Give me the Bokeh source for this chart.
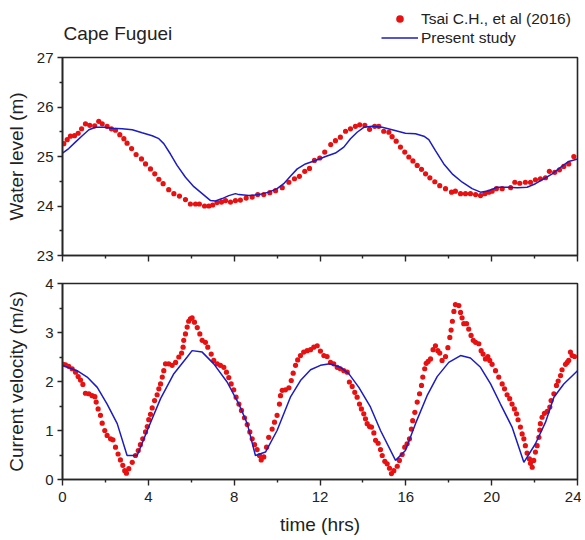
from bokeh.plotting import figure
from bokeh.models import FixedTicker, Legend, LegendItem, Range1d
from bokeh.layouts import column
from bokeh.embed import file_html
from bokeh.resources import INLINE
from bokeh.core.properties import value

FONT = "Liberation Sans"

# ---------------- data ----------------
x_ticks = [0, 4, 8, 12, 16, 20, 24]
x_minor = [2, 6, 10, 14, 18, 22]
wl_ticks = [23, 24, 25, 26, 27]
wl_minor = [23.5, 24.5, 25.5, 26.5]
cv_ticks = [0, 1, 2, 3, 4]
cv_minor = [0.5, 1.5, 2.5, 3.5]

# Water level, Tsai C.H. et al (2016)
wl_obs_t = [0.06, 0.22, 0.37, 0.56, 0.73, 0.89, 1.07, 1.27, 1.50, 1.69, 1.85, 2.08, 2.28, 2.47,
            2.67, 2.86, 3.01, 3.22, 3.43, 3.68, 3.87, 4.10, 4.30, 4.49, 4.69, 4.95, 5.19, 5.45,
            5.73, 5.96, 6.20, 6.38, 6.62, 6.82, 7.00, 7.20, 7.41, 7.60, 7.83, 8.06, 8.29, 8.56,
            8.84, 9.10, 9.38, 9.66, 9.93, 10.24, 10.55, 10.81, 11.04, 11.29, 11.51, 11.74, 11.99,
            12.22, 12.50, 12.72, 12.95, 13.19, 13.42, 13.65, 13.85, 14.09, 14.31, 14.55, 14.74,
            14.97, 15.21, 15.36, 15.55, 15.75, 15.95, 16.14, 16.33, 16.53, 16.73, 16.92, 17.12,
            17.35, 17.58, 17.85, 18.13, 18.31, 18.55, 18.78, 19.01, 19.25, 19.48, 19.68, 19.87,
            20.02, 20.22, 20.49, 20.88, 21.08, 21.31, 21.57, 21.81, 22.04, 22.27, 22.51, 22.69,
            22.94, 23.16, 23.36, 23.59, 23.83]
wl_obs_v = [25.26, 25.34, 25.41, 25.42, 25.47, 25.56, 25.66, 25.63, 25.62, 25.71, 25.66, 25.61,
            25.56, 25.53, 25.44, 25.36, 25.27, 25.16, 25.04, 24.95, 24.85, 24.75, 24.65, 24.54,
            24.45, 24.33, 24.25, 24.20, 24.13, 24.04, 24.04, 24.04, 24.00, 24.00, 24.02, 24.07,
            24.08, 24.11, 24.08, 24.11, 24.12, 24.16, 24.18, 24.23, 24.23, 24.27, 24.31, 24.37,
            24.48, 24.55, 24.60, 24.70, 24.76, 24.92, 24.97, 25.09, 25.24, 25.32, 25.39, 25.51,
            25.56, 25.61, 25.64, 25.63, 25.55, 25.61, 25.61, 25.51, 25.49, 25.40, 25.31, 25.19,
            25.09, 24.99, 24.91, 24.82, 24.74, 24.65, 24.57, 24.49, 24.41, 24.35, 24.28, 24.30,
            24.25, 24.25, 24.25, 24.23, 24.21, 24.25, 24.28, 24.30, 24.35, 24.35, 24.37, 24.48,
            24.46, 24.48, 24.48, 24.53, 24.55, 24.57, 24.70, 24.68, 24.73, 24.80, 24.85, 25.00]

# Water level, present study
wl_sim_t = [0.00, 0.29, 0.60, 0.92, 1.23, 1.54, 1.93, 2.31, 2.78, 3.25, 3.71, 4.18, 4.49, 4.72,
            5.03, 5.34, 5.73, 6.12, 6.51, 6.90, 7.13, 7.44, 7.75, 8.06, 8.22, 8.68, 9.15, 9.61,
            10.00, 10.31, 10.62, 10.94, 11.32, 11.79, 12.26, 12.72, 13.11, 13.42, 13.73, 14.04,
            14.43, 14.90, 15.36, 15.98, 16.45, 16.84, 17.07, 17.38, 17.77, 18.16, 18.63, 19.09,
            19.48, 19.87, 20.26, 20.72, 21.19, 21.65, 22.04, 22.43, 22.82, 23.21, 23.59, 24.00]
wl_sim_v = [25.07, 25.16, 25.29, 25.42, 25.54, 25.59, 25.59, 25.57, 25.56, 25.54, 25.48, 25.42,
            25.36, 25.26, 25.05, 24.82, 24.58, 24.39, 24.25, 24.11, 24.10, 24.15, 24.21, 24.25,
            24.23, 24.21, 24.23, 24.28, 24.35, 24.45, 24.60, 24.75, 24.85, 24.92, 25.00, 25.07,
            25.19, 25.36, 25.49, 25.59, 25.61, 25.59, 25.54, 25.47, 25.46, 25.41, 25.34, 25.12,
            24.85, 24.65, 24.48, 24.35, 24.28, 24.31, 24.38, 24.38, 24.37, 24.38, 24.45, 24.55,
            24.65, 24.78, 24.90, 24.95]

# Current velocity, Tsai C.H. et al (2016)
cv_obs_t = [0.03, 0.14, 0.29, 0.45, 0.61, 0.73, 0.84, 0.95, 1.07, 1.23, 1.38, 1.51, 1.57, 1.66,
            1.77, 1.85, 1.97, 2.08, 2.24, 2.35, 2.47, 2.59, 2.70, 2.81, 2.90, 2.98, 3.09, 3.25,
            3.40, 3.53, 3.63, 3.74, 3.87, 3.95, 4.02, 4.10, 4.18, 4.29, 4.41, 4.49, 4.57, 4.65,
            4.72, 4.80, 4.95, 5.11, 5.27, 5.42, 5.55, 5.62, 5.65, 5.73, 5.81, 5.88, 5.96, 6.04,
            6.15, 6.28, 6.40, 6.51, 6.66, 6.77, 6.93, 7.05, 7.21, 7.36, 7.52, 7.64, 7.75, 7.86,
            7.98, 8.09, 8.22, 8.34, 8.48, 8.61, 8.73, 8.84, 8.95, 9.07, 9.18, 9.26, 9.38, 9.51,
            9.61, 9.77, 9.88, 10.00, 10.11, 10.16, 10.24, 10.39, 10.55, 10.66, 10.75, 10.86,
            10.96, 11.09, 11.24, 11.40, 11.56, 11.71, 11.87, 12.02, 12.18, 12.33, 12.49, 12.64,
            12.80, 12.95, 13.11, 13.27, 13.37, 13.50, 13.62, 13.73, 13.84, 13.93, 14.04, 14.12,
            14.20, 14.31, 14.40, 14.51, 14.59, 14.71, 14.82, 14.90, 15.02, 15.13, 15.24, 15.33,
            15.44, 15.60, 15.70, 15.83, 15.95, 16.06, 16.17, 16.26, 16.32, 16.42, 16.53, 16.64,
            16.73, 16.79, 16.88, 16.95, 17.04, 17.15, 17.27, 17.38, 17.49, 17.58, 17.69, 17.85,
            17.96, 18.05, 18.11, 18.17, 18.24, 18.31, 18.47, 18.55, 18.62, 18.70, 18.83, 18.93,
            19.04, 19.14, 19.25, 19.40, 19.51, 19.60, 19.71, 19.82, 19.91, 20.02, 20.18, 20.33,
            20.49, 20.60, 20.72, 20.84, 20.95, 21.06, 21.16, 21.23, 21.34, 21.42, 21.50, 21.57,
            21.65, 21.76, 21.81, 21.89, 21.96, 22.04, 22.12, 22.20, 22.24, 22.27, 22.35, 22.46,
            22.59, 22.71, 22.77, 22.90, 23.02, 23.10, 23.21, 23.28, 23.44, 23.52, 23.59, 23.67,
            23.75, 23.86]
cv_obs_v = [2.35, 2.34, 2.31, 2.26, 2.19, 2.10, 2.03, 1.94, 1.76, 1.75, 1.71, 1.69, 1.58, 1.44,
            1.31, 1.15, 1.00, 0.90, 0.83, 0.81, 0.66, 0.52, 0.40, 0.29, 0.18, 0.13, 0.22, 0.35,
            0.49, 0.59, 0.71, 0.83, 0.97, 1.08, 1.22, 1.33, 1.46, 1.61, 1.73, 1.85, 1.95, 2.09,
            2.22, 2.36, 2.36, 2.33, 2.39, 2.50, 2.58, 2.70, 2.84, 2.97, 3.11, 3.23, 3.28, 3.30,
            3.21, 3.10, 2.97, 2.84, 2.80, 2.70, 2.56, 2.43, 2.36, 2.33, 2.29, 2.19, 2.08, 1.95,
            1.83, 1.68, 1.54, 1.41, 1.26, 1.12, 0.97, 0.83, 0.71, 0.61, 0.49, 0.40, 0.46, 0.66,
            0.86, 1.03, 1.17, 1.31, 1.54, 1.71, 1.82, 1.83, 1.87, 2.02, 2.17, 2.33,
            2.44, 2.53, 2.60, 2.63, 2.65, 2.70, 2.73, 2.62, 2.53, 2.51, 2.39, 2.36,
            2.29, 2.26, 2.22, 2.19, 1.99, 1.90, 1.78, 1.68, 1.54, 1.44, 1.34, 1.24,
            1.14, 1.08, 1.07, 0.95, 0.80, 0.74, 0.61, 0.49, 0.37, 0.32, 0.23, 0.12,
            0.18, 0.27, 0.39, 0.51, 0.66, 0.73, 0.83, 1.03, 1.20, 1.37, 1.58, 1.75,
            1.92, 2.09, 2.26, 2.37, 2.41, 2.46, 2.65, 2.73, 2.63, 2.58, 2.43, 2.51,
            2.69, 2.90, 3.05, 3.23, 3.43, 3.57, 3.55, 3.41, 3.30, 3.18, 3.18, 3.07,
            2.94, 2.84, 2.80, 2.77, 2.63, 2.56, 2.46, 2.51, 2.43, 2.35, 2.22, 2.09,
            1.95, 1.85, 1.73, 1.65, 1.54, 1.44, 1.34, 1.22, 1.07, 0.93, 0.83, 0.69,
            0.54, 0.42, 0.33, 0.25, 0.39, 0.56, 0.69, 0.86, 1.01, 1.14, 1.27, 1.35,
            1.39, 1.48, 1.61, 1.75, 1.92, 2.01, 2.12, 2.24, 2.35, 2.39, 2.43, 2.60,
            2.53, 2.51]

# Current velocity, present study
cv_sim_t = [0.00, 0.68, 1.15, 1.62, 2.08, 2.55, 3.01, 3.48, 3.95, 4.57, 5.19, 5.81, 6.04, 6.51,
            7.05, 7.67, 8.22, 8.61, 8.99, 9.46, 10.00, 10.62, 11.09, 11.56, 12.02, 12.46, 12.95,
            13.34, 13.81, 14.35, 14.82, 15.52, 15.98, 16.45, 16.99, 17.46, 18.00, 18.55, 19.01,
            19.48, 19.95, 20.41, 20.95, 21.50, 22.04, 22.51, 22.90, 23.36, 24.00]
cv_sim_v = [2.33, 2.22, 2.09, 1.88, 1.54, 1.14, 0.49, 0.49, 1.00, 1.65, 2.16, 2.50, 2.63, 2.60,
            2.36, 1.99, 1.54, 1.14, 0.49, 0.56, 1.00, 1.68, 2.02, 2.24, 2.33, 2.36, 2.29,
            2.16, 1.88, 1.48, 1.00, 0.39, 0.59, 1.14, 1.71, 2.10, 2.39, 2.53, 2.48,
            2.29, 1.95, 1.54, 1.07, 0.35, 0.73, 1.17, 1.68, 1.95, 2.22]

title_text = "Cape Fuguei"
obs_label = "Tsai C.H., et al (2016)"
sim_label = "Present study"

RED = "#e81010"
BLUE = "#1c1cc4"
AX = "#262626"
TXT = "#222222"
W = 581
LEFT = 62
RIGHT = 4


def style(p, left_ticks, left_minor, label, label_standoff, show_x_labels):
    p.xgrid.visible = False
    p.ygrid.visible = False
    p.outline_line_color = AX
    p.outline_line_width = 1.6
    for ax in (p.xaxis[0], p.yaxis[0]):
        ax.axis_line_color = AX
        ax.axis_line_width = 1.6
        ax.major_tick_line_color = AX
        ax.minor_tick_line_color = AX
        ax.major_tick_line_width = 1.4
        ax.minor_tick_line_width = 1.4
        ax.major_tick_in = 0
        ax.minor_tick_in = 0
        ax.major_label_text_font = FONT
        ax.major_label_text_font_size = "15px"
        ax.major_label_text_color = TXT
        ax.axis_label_text_font = FONT
        ax.axis_label_text_font_size = "19px"
        ax.axis_label_text_font_style = "normal"
        ax.axis_label_text_color = TXT
    p.xaxis[0].ticker = FixedTicker(ticks=x_ticks, minor_ticks=x_minor)
    p.xaxis[0].major_tick_out = 6
    p.xaxis[0].minor_tick_out = 3
    p.yaxis[0].ticker = FixedTicker(ticks=left_ticks, minor_ticks=left_minor)
    p.yaxis[0].major_tick_out = 5
    p.yaxis[0].minor_tick_out = 3
    p.yaxis[0].major_label_standoff = 4
    p.yaxis[0].axis_label = label
    p.yaxis[0].axis_label_standoff = label_standoff
    if not show_x_labels:
        p.xaxis[0].major_label_overrides = {t: "" for t in x_ticks}
        p.xaxis[0].major_label_text_font_size = "0px"
        p.xaxis[0].major_label_standoff = 0


# ---------------- header (title + legend) ----------------
# the column aligns this frame with the panels below (page x 62..577), so the
# x range is set to page pixels
HEAD_H = 47
head = figure(width=W, height=HEAD_H, output_backend="svg", toolbar_location=None,
              x_range=Range1d(LEFT, W - RIGHT), y_range=Range1d(0, HEAD_H),
              min_border_left=LEFT, min_border_right=RIGHT, min_border_top=0, min_border_bottom=0)
head.axis.visible = False
head.grid.visible = False
head.outline_line_color = None
head.text(x=[63], y=[HEAD_H - 33], text=[title_text], text_font=value(FONT), text_font_size="19px",
          text_color=TXT, text_baseline="middle", text_align="left")
# off-screen proxies that give the legend its glyphs
d_obs = head.scatter(x=[-9999], y=[-9999], size=5.5, color=RED, line_color=None)
d_sim = head.line(x=[-9999, -9998], y=[-9999, -9999], line_color=BLUE, line_width=1.5)
legend = Legend(items=[LegendItem(label=obs_label, renderers=[d_obs]),
                       LegendItem(label=sim_label, renderers=[d_sim])],
                location=(381 - LEFT, 0), padding=0, margin=0, spacing=0,
                glyph_width=37, glyph_height=19, label_height=19, label_standoff=3,
                label_text_font=FONT, label_text_font_size="15.5px", label_text_color=TXT,
                border_line_color=None, background_fill_alpha=0)
head.add_layout(legend)

# ---------------- top panel ----------------
top = figure(width=W, height=221, output_backend="svg", toolbar_location=None,
             x_range=Range1d(0, 24), y_range=Range1d(23, 27),
             min_border_left=LEFT, min_border_right=RIGHT, min_border_top=10, min_border_bottom=13)
style(top, wl_ticks, wl_minor, "Water level (m)", 7, False)
top.scatter(wl_obs_t, wl_obs_v, size=5.2, color=RED, line_color=None)
top.line(wl_sim_t, wl_sim_v, line_color=BLUE, line_width=1.5)

# ---------------- bottom panel ----------------
bot = figure(width=W, height=271, output_backend="svg", toolbar_location=None,
             x_range=Range1d(0, 24), y_range=Range1d(0, 4),
             min_border_left=LEFT, min_border_right=RIGHT, min_border_top=15, min_border_bottom=60)
style(bot, cv_ticks, cv_minor, "Current velocity (m/s)", 15, True)
bot.xaxis[0].axis_label = "time (hrs)"
bot.xaxis[0].major_label_standoff = 6
bot.xaxis[0].axis_label_standoff = 9
bot.scatter(cv_obs_t, cv_obs_v, size=5.2, color=RED, line_color=None)
bot.line(cv_sim_t, cv_sim_v, line_color=BLUE, line_width=1.5)

layout = column(head, top, bot, spacing=0)
open("out.html", "w").write(file_html(layout, INLINE))
